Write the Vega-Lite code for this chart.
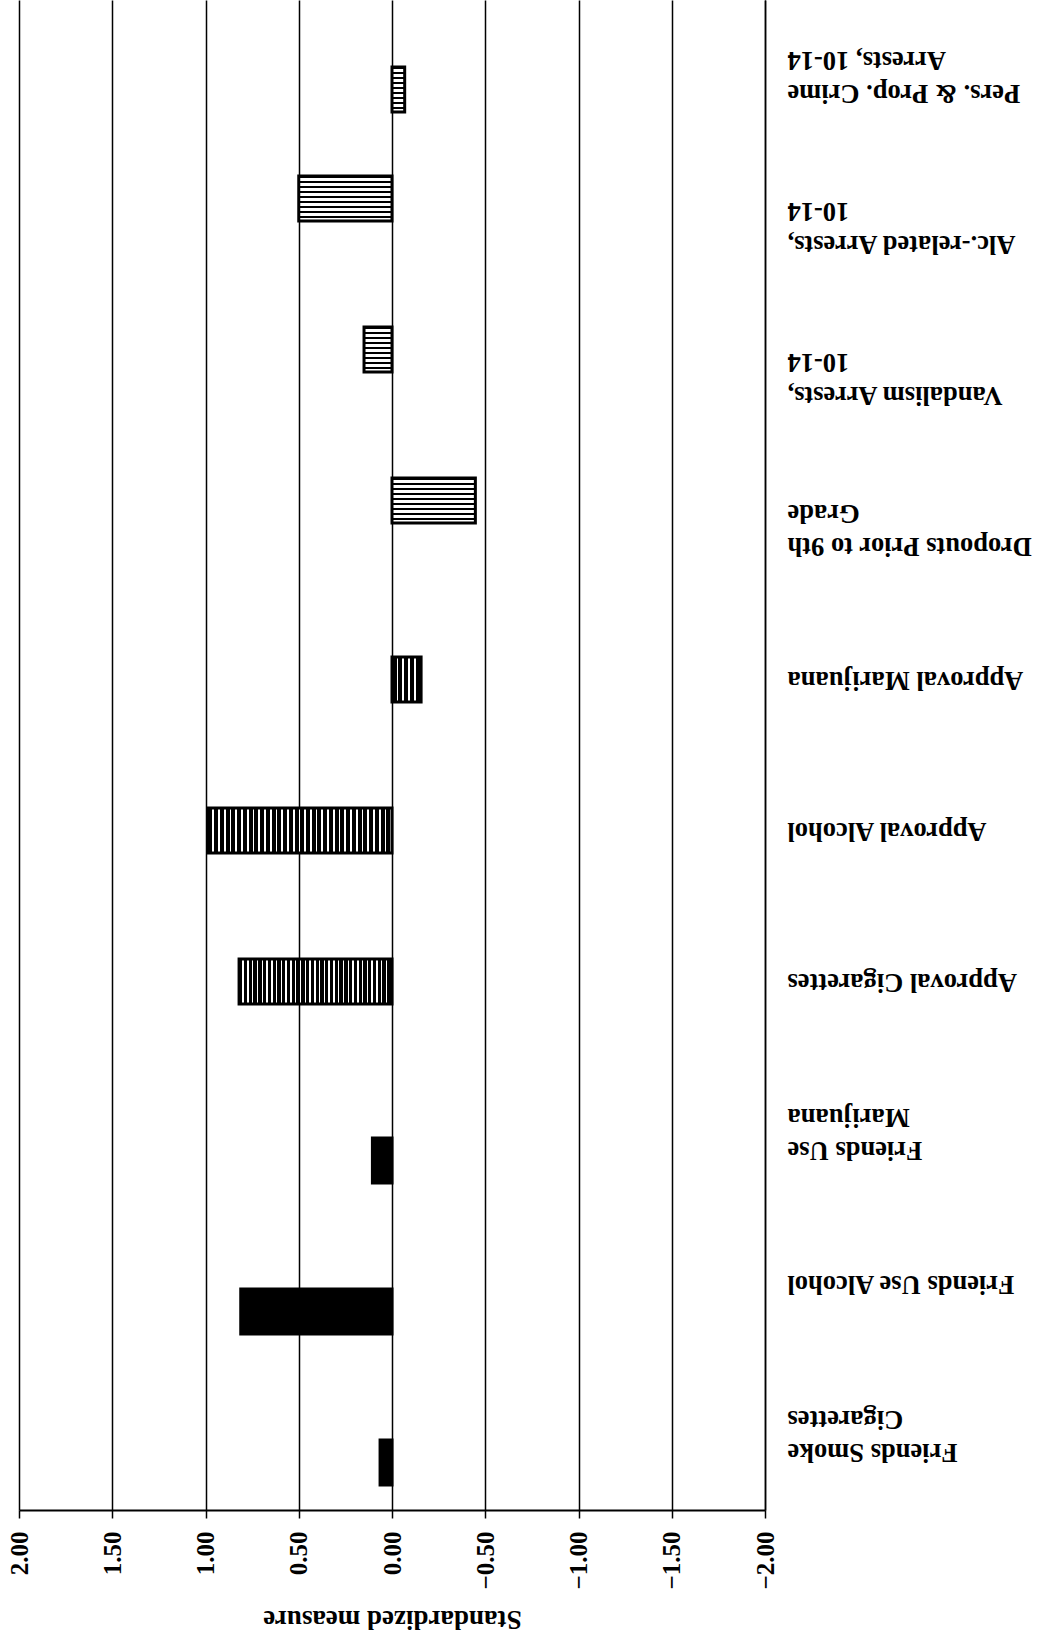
{
  "$schema": "https://vega.github.io/schema/vega-lite/v6.json",
  "width": 746,
  "height": 1510,
  "autosize": {"type": "none"},
  "padding": {"left": 19, "top": 0, "right": 278, "bottom": 130},
  "background": "#ffffff",
  "config": {"view": {"stroke": null}},
  "data": {
    "values": [
      {"label": "Pers. & Prop. Crime|Arrests, 10-14", "series": "Crime", "value": -0.068},
      {"label": "Alc.-related Arrests,|10-14", "series": "Arrests", "value": 0.5},
      {"label": "Vandalism Arrests,|10-14", "series": "Arrests", "value": 0.15},
      {"label": "Dropouts Prior to 9th|Grade", "series": "Arrests", "value": -0.447},
      {"label": "Approval Marijuana", "series": "Approval", "value": -0.156},
      {"label": "Approval Alcohol", "series": "Approval", "value": 0.984},
      {"label": "Approval Cigarettes", "series": "Approval", "value": 0.82},
      {"label": "Friends Use|Marijuana", "series": "Friends", "value": 0.105},
      {"label": "Friends Use Alcohol", "series": "Friends", "value": 0.811},
      {"label": "Friends Smoke|Cigarettes", "series": "Friends", "value": 0.064}
    ]
  },
  "mark": {"type": "bar", "height": 45, "stroke": "#000000", "strokeWidth": 3},
  "encoding": {
    "y": {
      "field": "label",
      "type": "nominal",
      "scale": {
        "domain": ["Pers. & Prop. Crime|Arrests, 10-14", "Alc.-related Arrests,|10-14", "Vandalism Arrests,|10-14", "Dropouts Prior to 9th|Grade", "Approval Marijuana", "Approval Alcohol", "Approval Cigarettes", "Friends Use|Marijuana", "Friends Use Alcohol", "Friends Smoke|Cigarettes"],
        "paddingInner": 0,
        "paddingOuter": 0
      },
      "axis": {
        "orient": "right",
        "title": null,
        "ticks": false,
        "grid": false,
        "domain": true,
        "domainColor": "#000000",
        "domainWidth": 1.5,
        "labelAngle": 180,
        "labelAlign": "right",
        "labelBaseline": "middle",
        "labelPadding": 22,
        "labelOffset": {"condition": {"test": "indexof(datum.value, '|') >= 0", "value": 17}, "value": 0},
        "labelFont": "Liberation Serif",
        "labelFontWeight": "bold",
        "labelFontSize": 26.5,
        "labelColor": "#000000",
        "labelLineHeight": 33,
        "labelLimit": 400,
        "labelExpr": "split(datum.value, '|')"
      }
    },
    "yOffset": {
      "field": "series",
      "type": "nominal",
      "scale": {"domain": ["Arrests", "Other", "Approval", "Crime", "Friends"], "paddingInner": 0, "paddingOuter": 0, "range": [40.5, 110.5]}
    },
    "x": {
      "field": "value",
      "type": "quantitative",
      "scale": {"domain": [-2, 2], "reverse": true, "nice": false, "zero": true},
      "axis": {
        "values": [-2, -1.5, -1, -0.5, 0, 0.5, 1, 1.5, 2],
        "format": ".2f",
        "labelAngle": 270,
        "labelAlign": "right",
        "labelBaseline": "middle",
        "labelFlush": false,
        "labelOverlap": false,
        "labelFont": "Liberation Serif",
        "labelFontWeight": "bold",
        "labelFontSize": 25,
        "labelColor": "#000000",
        "labelPadding": 13,
        "tickSize": 8,
        "tickColor": "#000000",
        "tickWidth": 1.5,
        "domainColor": "#000000",
        "domainWidth": 2,
        "grid": true,
        "gridColor": "#000000",
        "gridWidth": 1.5,
        "gridOpacity": 1,
        "title": "Standardized measure",
        "titleFont": "Liberation Serif",
        "titleFontWeight": "bold",
        "titleFontSize": 27,
        "titleColor": "#000000",
        "titleAngle": 180,
        "titleBaseline": "middle",
        "titleY": 108
      }
    },
    "fill": {
      "condition": [
        {"test": "datum.series === 'Friends'", "value": "#000000"},
        {"test": "datum.label === 'Approval Marijuana'", "value": {"gradient": "linear", "x1": 0, "y1": 0, "x2": 1, "y2": 0, "stops": [
          {"offset": 0, "color": "#000"}, {"offset": 0.16, "color": "#000"}, {"offset": 0.16, "color": "#fff"}, {"offset": 0.22, "color": "#fff"},
          {"offset": 0.22, "color": "#000"}, {"offset": 0.36, "color": "#000"}, {"offset": 0.36, "color": "#fff"}, {"offset": 0.42, "color": "#fff"},
          {"offset": 0.42, "color": "#000"}, {"offset": 0.56, "color": "#000"}, {"offset": 0.56, "color": "#fff"}, {"offset": 0.62, "color": "#fff"},
          {"offset": 0.62, "color": "#000"}, {"offset": 0.76, "color": "#000"}, {"offset": 0.76, "color": "#fff"}, {"offset": 0.82, "color": "#fff"},
          {"offset": 0.82, "color": "#000"}, {"offset": 1, "color": "#000"}
        ]}},
        {"test": "datum.series === 'Approval'", "value": {"gradient": "linear", "x1": 0, "y1": 0, "x2": 1, "y2": 0, "stops": [
          {"offset": 0, "color": "#000"}, {"offset": 0.021875, "color": "#000"}, {"offset": 0.021875, "color": "#fff"}, {"offset": 0.03125, "color": "#fff"},
          {"offset": 0.03125, "color": "#000"}, {"offset": 0.053125, "color": "#000"}, {"offset": 0.053125, "color": "#fff"}, {"offset": 0.0625, "color": "#fff"},
          {"offset": 0.0625, "color": "#000"}, {"offset": 0.084375, "color": "#000"}, {"offset": 0.084375, "color": "#fff"}, {"offset": 0.09375, "color": "#fff"},
          {"offset": 0.09375, "color": "#000"}, {"offset": 0.115625, "color": "#000"}, {"offset": 0.115625, "color": "#fff"}, {"offset": 0.125, "color": "#fff"},
          {"offset": 0.125, "color": "#000"}, {"offset": 0.146875, "color": "#000"}, {"offset": 0.146875, "color": "#fff"}, {"offset": 0.15625, "color": "#fff"},
          {"offset": 0.15625, "color": "#000"}, {"offset": 0.178125, "color": "#000"}, {"offset": 0.178125, "color": "#fff"}, {"offset": 0.1875, "color": "#fff"},
          {"offset": 0.1875, "color": "#000"}, {"offset": 0.209375, "color": "#000"}, {"offset": 0.209375, "color": "#fff"}, {"offset": 0.21875, "color": "#fff"},
          {"offset": 0.21875, "color": "#000"}, {"offset": 0.240625, "color": "#000"}, {"offset": 0.240625, "color": "#fff"}, {"offset": 0.25, "color": "#fff"},
          {"offset": 0.25, "color": "#000"}, {"offset": 0.271875, "color": "#000"}, {"offset": 0.271875, "color": "#fff"}, {"offset": 0.28125, "color": "#fff"},
          {"offset": 0.28125, "color": "#000"}, {"offset": 0.303125, "color": "#000"}, {"offset": 0.303125, "color": "#fff"}, {"offset": 0.3125, "color": "#fff"},
          {"offset": 0.3125, "color": "#000"}, {"offset": 0.334375, "color": "#000"}, {"offset": 0.334375, "color": "#fff"}, {"offset": 0.34375, "color": "#fff"},
          {"offset": 0.34375, "color": "#000"}, {"offset": 0.365625, "color": "#000"}, {"offset": 0.365625, "color": "#fff"}, {"offset": 0.375, "color": "#fff"},
          {"offset": 0.375, "color": "#000"}, {"offset": 0.396875, "color": "#000"}, {"offset": 0.396875, "color": "#fff"}, {"offset": 0.40625, "color": "#fff"},
          {"offset": 0.40625, "color": "#000"}, {"offset": 0.428125, "color": "#000"}, {"offset": 0.428125, "color": "#fff"}, {"offset": 0.4375, "color": "#fff"},
          {"offset": 0.4375, "color": "#000"}, {"offset": 0.459375, "color": "#000"}, {"offset": 0.459375, "color": "#fff"}, {"offset": 0.46875, "color": "#fff"},
          {"offset": 0.46875, "color": "#000"}, {"offset": 0.490625, "color": "#000"}, {"offset": 0.490625, "color": "#fff"}, {"offset": 0.5, "color": "#fff"},
          {"offset": 0.5, "color": "#000"}, {"offset": 0.521875, "color": "#000"}, {"offset": 0.521875, "color": "#fff"}, {"offset": 0.53125, "color": "#fff"},
          {"offset": 0.53125, "color": "#000"}, {"offset": 0.553125, "color": "#000"}, {"offset": 0.553125, "color": "#fff"}, {"offset": 0.5625, "color": "#fff"},
          {"offset": 0.5625, "color": "#000"}, {"offset": 0.584375, "color": "#000"}, {"offset": 0.584375, "color": "#fff"}, {"offset": 0.59375, "color": "#fff"},
          {"offset": 0.59375, "color": "#000"}, {"offset": 0.615625, "color": "#000"}, {"offset": 0.615625, "color": "#fff"}, {"offset": 0.625, "color": "#fff"},
          {"offset": 0.625, "color": "#000"}, {"offset": 0.646875, "color": "#000"}, {"offset": 0.646875, "color": "#fff"}, {"offset": 0.65625, "color": "#fff"},
          {"offset": 0.65625, "color": "#000"}, {"offset": 0.678125, "color": "#000"}, {"offset": 0.678125, "color": "#fff"}, {"offset": 0.6875, "color": "#fff"},
          {"offset": 0.6875, "color": "#000"}, {"offset": 0.709375, "color": "#000"}, {"offset": 0.709375, "color": "#fff"}, {"offset": 0.71875, "color": "#fff"},
          {"offset": 0.71875, "color": "#000"}, {"offset": 0.740625, "color": "#000"}, {"offset": 0.740625, "color": "#fff"}, {"offset": 0.75, "color": "#fff"},
          {"offset": 0.75, "color": "#000"}, {"offset": 0.771875, "color": "#000"}, {"offset": 0.771875, "color": "#fff"}, {"offset": 0.78125, "color": "#fff"},
          {"offset": 0.78125, "color": "#000"}, {"offset": 0.803125, "color": "#000"}, {"offset": 0.803125, "color": "#fff"}, {"offset": 0.8125, "color": "#fff"},
          {"offset": 0.8125, "color": "#000"}, {"offset": 0.834375, "color": "#000"}, {"offset": 0.834375, "color": "#fff"}, {"offset": 0.84375, "color": "#fff"},
          {"offset": 0.84375, "color": "#000"}, {"offset": 0.865625, "color": "#000"}, {"offset": 0.865625, "color": "#fff"}, {"offset": 0.875, "color": "#fff"},
          {"offset": 0.875, "color": "#000"}, {"offset": 0.896875, "color": "#000"}, {"offset": 0.896875, "color": "#fff"}, {"offset": 0.90625, "color": "#fff"},
          {"offset": 0.90625, "color": "#000"}, {"offset": 0.928125, "color": "#000"}, {"offset": 0.928125, "color": "#fff"}, {"offset": 0.9375, "color": "#fff"},
          {"offset": 0.9375, "color": "#000"}, {"offset": 0.959375, "color": "#000"}, {"offset": 0.959375, "color": "#fff"}, {"offset": 0.96875, "color": "#fff"},
          {"offset": 0.96875, "color": "#000"}, {"offset": 0.990625, "color": "#000"}, {"offset": 0.990625, "color": "#fff"}, {"offset": 1, "color": "#fff"}
        ]}}
      ],
      "value": {"gradient": "linear", "x1": 0, "y1": 0, "x2": 0, "y2": 1, "stops": [
        {"offset": 0, "color": "#000"}, {"offset": 0.05, "color": "#000"}, {"offset": 0.05, "color": "#fff"}, {"offset": 0.1111, "color": "#fff"},
        {"offset": 0.1111, "color": "#000"}, {"offset": 0.1611, "color": "#000"}, {"offset": 0.1611, "color": "#fff"}, {"offset": 0.2222, "color": "#fff"},
        {"offset": 0.2222, "color": "#000"}, {"offset": 0.2722, "color": "#000"}, {"offset": 0.2722, "color": "#fff"}, {"offset": 0.3333, "color": "#fff"},
        {"offset": 0.3333, "color": "#000"}, {"offset": 0.3833, "color": "#000"}, {"offset": 0.3833, "color": "#fff"}, {"offset": 0.4444, "color": "#fff"},
        {"offset": 0.4444, "color": "#000"}, {"offset": 0.4944, "color": "#000"}, {"offset": 0.4944, "color": "#fff"}, {"offset": 0.5556, "color": "#fff"},
        {"offset": 0.5556, "color": "#000"}, {"offset": 0.6056, "color": "#000"}, {"offset": 0.6056, "color": "#fff"}, {"offset": 0.6667, "color": "#fff"},
        {"offset": 0.6667, "color": "#000"}, {"offset": 0.7167, "color": "#000"}, {"offset": 0.7167, "color": "#fff"}, {"offset": 0.7778, "color": "#fff"},
        {"offset": 0.7778, "color": "#000"}, {"offset": 0.8278, "color": "#000"}, {"offset": 0.8278, "color": "#fff"}, {"offset": 0.8889, "color": "#fff"},
        {"offset": 0.8889, "color": "#000"}, {"offset": 0.9389, "color": "#000"}, {"offset": 0.9389, "color": "#fff"}, {"offset": 1, "color": "#fff"}
      ]}
    }
  }
}
